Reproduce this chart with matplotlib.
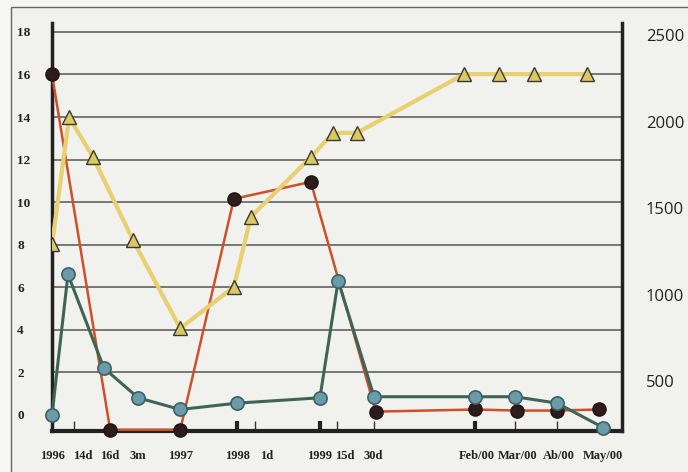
import matplotlib
matplotlib.use("Agg")
import matplotlib.pyplot as plt
from matplotlib.patches import Rectangle

# x positions on an irregular time scale (0 = 1996, 100 = right edge)
label_pos = [0, 5.4, 10.2, 15.1, 22.5, 32.5, 37.7, 47.0, 51.4, 56.3, 74.6, 81.6, 88.9, 96.7]
label_txt = ["1996", "14d", "16d", "3m", "1997", "1998", "1d", "1999", "15d", "30d",
             "Feb/00", "Mar/00", "Ab/00", "May/00"]
thin_ticks = [3.9, 15.1, 35.6, 50.0, 56.5, 81.2, 88.6]
thick_ticks = [32.5, 47.0, 74.2]

# red series (left axis)
red_x = [0, 10.2, 22.5, 31.9, 45.4, 56.8, 74.2, 81.6, 88.6, 96.0]
red_y = [16, -0.7, -0.7, 10.15, 10.95, 0.15, 0.25, 0.2, 0.2, 0.25]

# blue series (left axis)
blue_x = [0, 2.8, 9.1, 15.1, 22.5, 32.5, 47.0, 50.2, 56.5, 74.2, 81.2, 88.6, 96.7]
blue_y = [0.0, 6.6, 2.2, 0.8, 0.25, 0.55, 0.8, 6.3, 0.85, 0.85, 0.85, 0.55, -0.6]

# yellow series (right axis)
yel_x = [0, 3.0, 7.2, 14.2, 22.5, 31.9, 34.9, 45.4, 49.3, 53.5, 72.3, 78.4, 84.6, 93.9]
yel_y = [1290, 2025, 1795, 1315, 805, 1045, 1450, 1795, 1935, 1935, 2275, 2275, 2275, 2275]

left_ticks = [0, 2, 4, 6, 8, 10, 12, 14, 16, 18]
right_ticks = [500, 1000, 1500, 2000, 2500]

bg = "#f1f1ee"
fig = plt.figure(figsize=(6.88, 4.72), dpi=100)
fig.patch.set_facecolor("#f6f6f4")
fig.patches.append(Rectangle((0.016, -0.05), 1.1, 1.035, transform=fig.transFigure,
                             facecolor=bg, edgecolor="#666666", lw=1.0, zorder=-5))

ax = fig.add_axes([0.0756, 0.0869, 0.8285, 0.8644])
ax.patch.set_visible(False)
ax.set_xlim(0, 100)
ylo, yhi = -0.76, 18.42
ax.set_ylim(ylo, yhi)

for g in left_ticks[1:]:
    ax.axhline(g, color="#555555", lw=1.1, zorder=1)

ax.plot(red_x, red_y, color="#cc5028", lw=1.8, marker="o", ms=9.5,
        mfc="#2e1c1c", mec="#1e1212", mew=1, zorder=4, clip_on=False)
ax.plot(blue_x, blue_y, color="#3e6458", lw=2.2, marker="o", ms=9.5,
        mfc="#6a9ca8", mec="#3e5e6a", mew=1.2, zorder=5, clip_on=False)

ax.set_yticks(left_ticks)
ax.set_yticklabels([str(v) for v in left_ticks])
ax.tick_params(axis="y", length=0, pad=25, labelsize=9.5)
for lab in ax.get_yticklabels():
    lab.set_ha("left")
    lab.set_fontfamily("Liberation Serif")
    lab.set_fontweight("bold")
    lab.set_color("#222222")

ax.set_xticks(label_pos)
ax.set_xticklabels(label_txt)
ax.tick_params(axis="x", which="major", length=0, pad=14, labelsize=9)
for lab in ax.get_xticklabels():
    lab.set_fontfamily("Liberation Serif")
    lab.set_fontweight("bold")
    lab.set_color("#222222")
ax.set_xticks(thin_ticks, minor=True)
ax.tick_params(axis="x", which="minor", direction="in", length=7, width=1, color="#333333")

sec = ax.secondary_xaxis("bottom")
sec.set_xticks(thick_ticks)
sec.set_xticklabels([])
sec.tick_params(direction="in", length=7, width=3, color="#222222")
sec.spines["bottom"].set_visible(False)

for s in ["top", "right"]:
    ax.spines[s].set_visible(False)
ax.spines["left"].set_linewidth(2.5)
ax.spines["left"].set_color("#222222")
ax.spines["bottom"].set_linewidth(3)
ax.spines["bottom"].set_color("#222222")

ax2 = ax.twinx()
ax2.set_ylim(123 * ylo + 305, 123 * yhi + 305)
ax2.plot(yel_x, yel_y, color="#e8d070", lw=3.0, marker="^", ms=10,
         mfc="#dac866", mec="#3a3a2a", mew=1, zorder=3)
ax2.set_yticks(right_ticks)
ax2.set_yticklabels([str(v) for v in right_ticks])
ax2.tick_params(axis="y", length=0, pad=17, labelsize=12, labelcolor="#222222")
for lab in ax2.get_yticklabels():
    lab.set_fontfamily("Open Sans")
for s in ["top", "left", "bottom"]:
    ax2.spines[s].set_visible(False)
ax2.spines["right"].set_linewidth(2.5)
ax2.spines["right"].set_color("#222222")

fig.savefig("out.png", dpi=100, facecolor=fig.get_facecolor())
